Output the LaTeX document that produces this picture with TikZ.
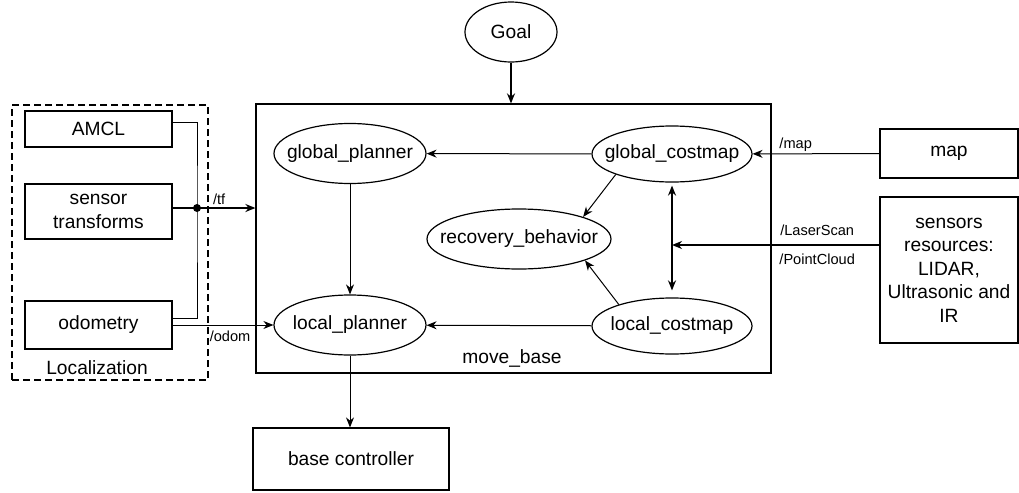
\documentclass[tikz,border=0pt]{standalone}
\usepackage{fontspec}
\setmainfont{Liberation Sans}
\usetikzlibrary{arrows.meta,shapes.geometric,positioning}

\tikzset{
  blk/.style={draw,rectangle,line width=0.6pt,inner sep=0pt,align=center},
  proc/.style={draw,ellipse,line width=0.6pt,inner xsep=-8pt,inner ysep=0pt},
  tag/.style={font=\fontsize{7.3}{9}\selectfont,inner sep=1pt},
  wire/.style={line width=0.5pt},
  thickline/.style={line width=1pt},
}

\begin{document}
\begin{tikzpicture}[x=0.5pt,y=-0.5pt,>={Stealth[length=5pt,width=4pt]},font=\fontsize{9.6}{11.75}\selectfont]
\useasboundingbox (0,0) rectangle (1019,493);

\node[blk,minimum width=257.5pt,minimum height=134.5pt] (MB) at (513.5,238.5) {};
\node (MBL) at (512,358) {move\_base};
\node[proc,minimum width=46pt,minimum height=30pt] (Goal) at (511,32) {Goal};
\node[proc,minimum width=76pt,minimum height=30pt] (GP) at (350,153.5) {global\_planner};
\node[proc,minimum width=80pt,minimum height=28pt] (GC) at (672,154) {global\_costmap};
\node[proc,minimum width=92pt,minimum height=30pt] (RB) at (519,239) {recovery\_behavior};
\node[proc,minimum width=76pt,minimum height=30pt] (LP) [below of = GP, node distance=85.75pt] {local\_planner};
\node[proc,minimum width=80pt,minimum height=28pt] (LC) [below of = GC, node distance=86pt] {local\_costmap};

\node[blk,minimum width=69pt,minimum height=24.5pt] (Map) at (949,153.5) {map};
\node[blk,minimum width=69pt,minimum height=73pt] (Sen) [below of = Map, node distance=58.25pt] {sensors\\resources:\\LIDAR,\\Ultrasonic and\\IR};
\node[blk,minimum width=98pt,minimum height=31pt] (BC) at (351,459) {base controller};

% localization group
\node[draw,line width=1.3pt,dash pattern=on 3.5pt off 2pt,minimum width=98pt,minimum height=137.5pt] (Loc) at (110,242.5) {};
\node[blk,minimum width=73.5pt,minimum height=18pt] (AMCL) at (98.5,129) {AMCL};
\node[blk,minimum width=73.5pt,minimum height=27.5pt] (ST) [below of = AMCL, node distance=41.25pt] {sensor\\transforms};
\node[blk,minimum width=73.5pt,minimum height=24pt] (Odo) [below of = ST, node distance=56.75pt] {odometry};
\node (LocLbl) at (97,368) {Localization};

\coordinate (J) at (197,208);
\coordinate (SenOut) at ([yshift=12.5pt]Sen.west);
\coordinate (SenIn) at (GC |- SenOut);

\path (Goal) edge [->,thickline] (Goal |- MB.north);
\path (GC) edge [->,wire] (GP);
\path (Map) edge [->,wire] node[tag,above,pos=0.66] {/map} (GC);
\path (SenOut) edge [->,thickline] node[tag,above=3pt,pos=0.3] {/LaserScan} node[tag,below=3pt,pos=0.3] {/PointCloud} (SenIn);
\path (GC.south) edge [<->,thickline,shorten <=1.5pt,shorten >=3.5pt] (LC.north);
\path (GC.200) edge [->,wire] (RB.19);
\path (LC.158) edge [->,wire] (RB.-18);
\path (LC) edge [->,wire] (LP);
\path (GP) edge [->,wire] (LP);
\path (LP.south) edge [->,wire] (LP.south |- BC.north);

\draw[wire] ([yshift=3.5pt]AMCL.east) -| (J) |- ([yshift=3.5pt]Odo.east);
\path (ST.east |- J) edge [thickline] (J);
\path (J) edge [->,thickline] node[tag,above,pos=0.38] {/tf} (MB.west |- J);
\fill (J) circle (2pt);
\path (Odo) edge [->,wire] node[tag,below=1.5pt,pos=0.57] {/odom} (LP);
\end{tikzpicture}
\end{document}
